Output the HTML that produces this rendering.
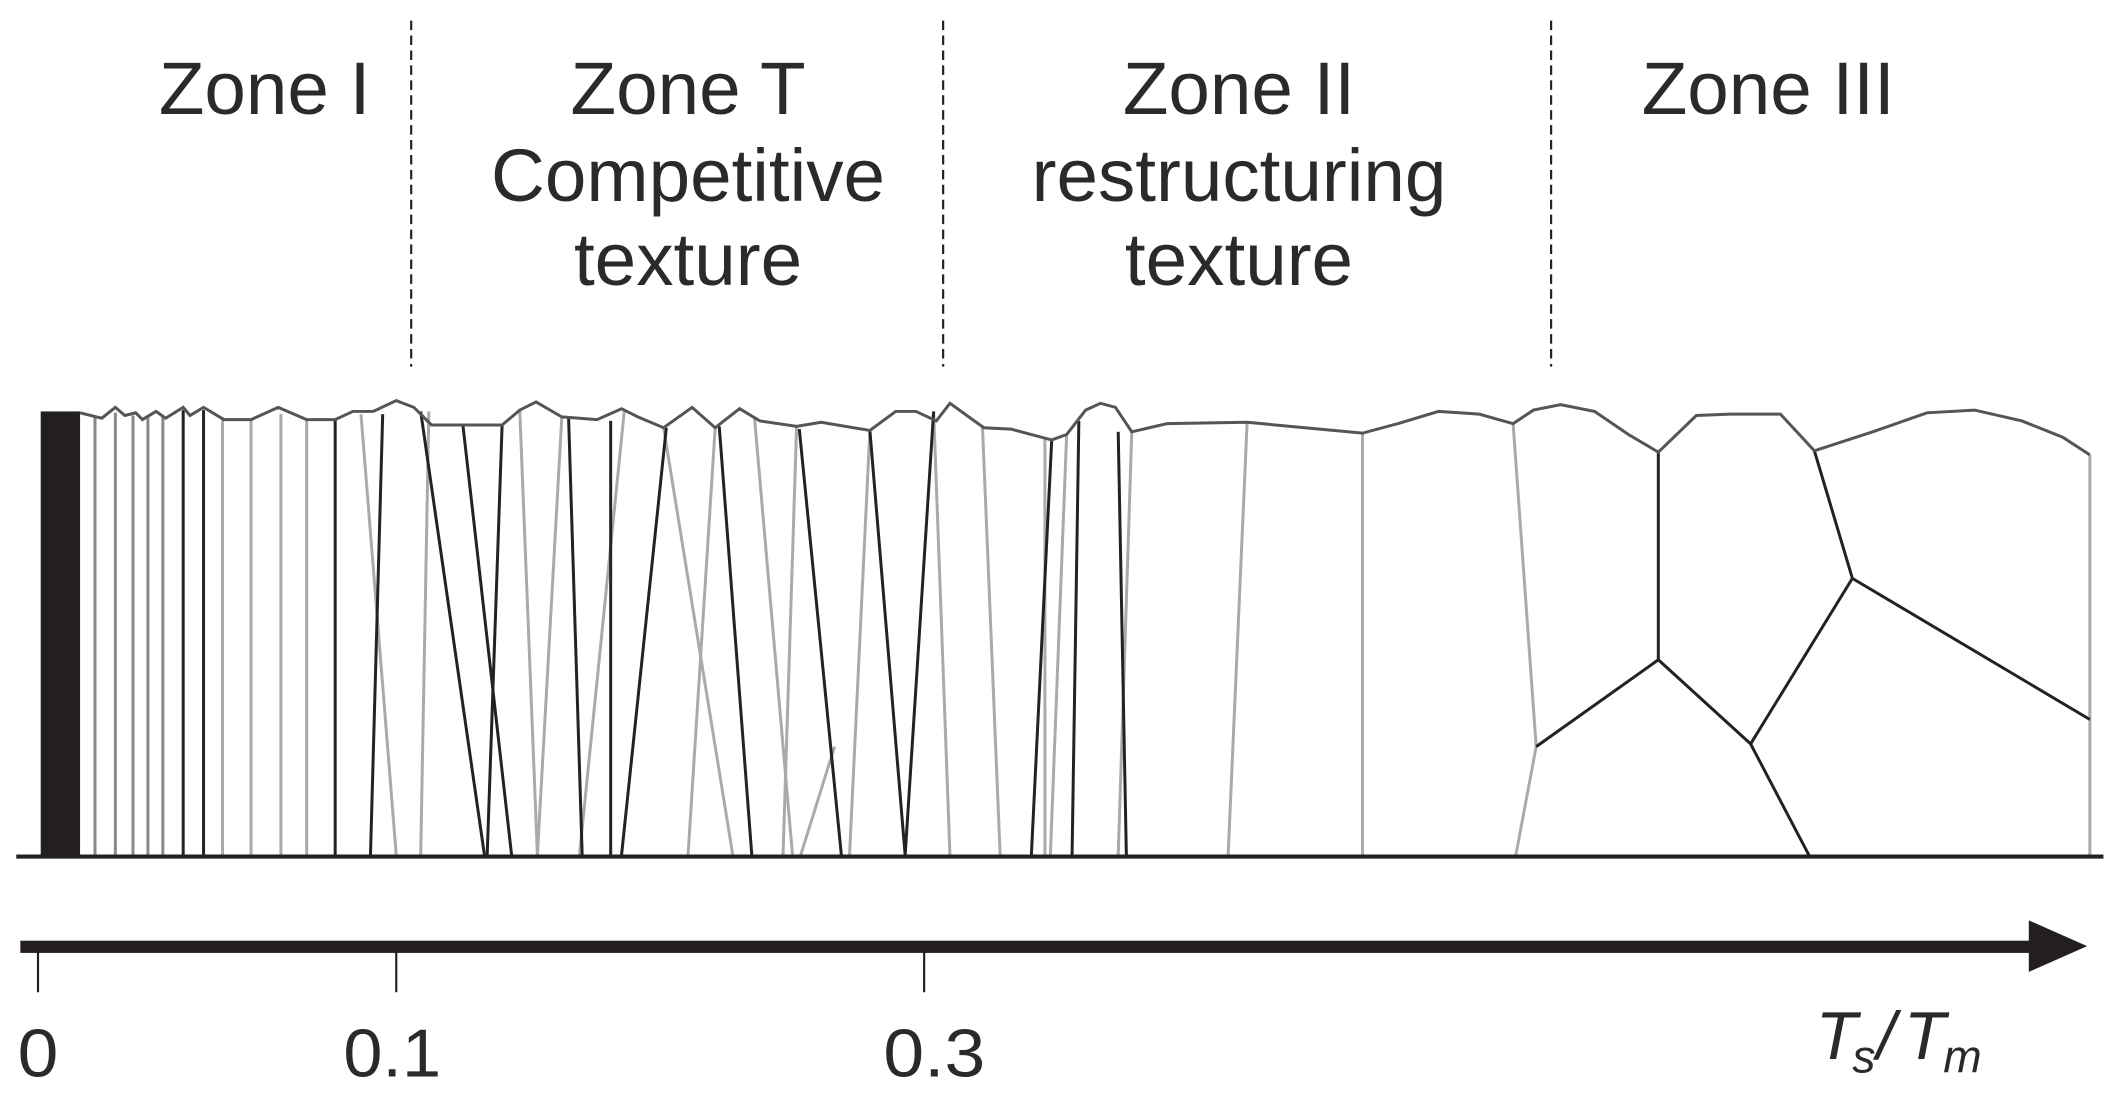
<!DOCTYPE html>
<html><head><meta charset="utf-8"><style>
html,body{margin:0;padding:0;background:#fff;}
svg{display:block}
text{font-family:"Liberation Sans",sans-serif;fill:#2a2a2a}
</style></head><body>
<svg width="2117" height="1097" viewBox="0 0 1560 808" xmlns="http://www.w3.org/2000/svg">
<g stroke="#222" stroke-width="1.6" stroke-dasharray="7,4">
<line x1="303" y1="15" x2="303" y2="270"/>
<line x1="695" y1="15" x2="695" y2="270"/>
<line x1="1143" y1="15" x2="1143" y2="270"/>
</g>
<g font-size="55" text-anchor="middle">
<text x="195" y="84">Zone I</text>
<text x="507" y="84">Zone T</text>
<text x="507" y="148">Competitive</text>
<text x="507" y="210">texture</text>
<text x="913" y="84">Zone II</text>
<text x="913" y="148">restructuring</text>
<text x="913" y="210">texture</text>
<text x="1303" y="84">Zone III</text>
</g>
<rect x="30" y="303" width="29" height="328" fill="#231f20"/>
<g stroke-width="2.2" fill="none">
<g stroke="#888">
<line x1="70" y1="306" x2="70" y2="630"/><line x1="85" y1="304" x2="85" y2="630"/>
<line x1="98" y1="306" x2="98" y2="630"/><line x1="109" y1="306" x2="109" y2="630"/>
<line x1="120" y1="306" x2="120" y2="630"/>
</g>
<g stroke="#aaa">
<line x1="164" y1="309" x2="164" y2="630"/><line x1="185" y1="309" x2="185" y2="630"/>
<line x1="207" y1="305" x2="207" y2="630"/><line x1="226" y1="309" x2="226" y2="630"/>
</g>
<g stroke="#222">
<line x1="135" y1="302" x2="135" y2="630"/><line x1="150" y1="302" x2="150" y2="630"/>
<line x1="247" y1="309" x2="247" y2="630"/>
</g>
<g stroke="#aaa">
<line x1="266" y1="305" x2="292" y2="630"/><line x1="316" y1="303" x2="310" y2="630"/>
<line x1="383" y1="302" x2="396" y2="630"/><line x1="414" y1="307" x2="396" y2="630"/>
<line x1="460" y1="303" x2="427" y2="630"/><line x1="489" y1="315" x2="540" y2="630"/>
<line x1="527" y1="315" x2="507" y2="630"/><line x1="556" y1="308" x2="584" y2="630"/>
<line x1="587" y1="314" x2="577" y2="630"/><line x1="641" y1="317" x2="626" y2="630"/>
<line x1="688" y1="303" x2="700" y2="630"/><line x1="724" y1="315" x2="737" y2="630"/>
<line x1="770" y1="322" x2="770" y2="630"/><line x1="786" y1="320" x2="774" y2="630"/>
<line x1="834" y1="318" x2="824" y2="630"/><line x1="919" y1="311" x2="905" y2="630"/>
<line x1="1004" y1="319" x2="1004" y2="630"/><line x1="1115" y1="312" x2="1132" y2="550"/>
<line x1="1132" y1="550" x2="1117" y2="630"/><line x1="1540" y1="335" x2="1540" y2="630"/>
<line x1="590" y1="630" x2="615" y2="550"/>
</g>
<g stroke="#222">
<line x1="282" y1="305" x2="273" y2="630"/><line x1="310" y1="303" x2="357" y2="630"/>
<line x1="341" y1="312" x2="377" y2="630"/><line x1="370" y1="313" x2="359" y2="630"/>
<line x1="419" y1="308" x2="429" y2="630"/><line x1="450" y1="310" x2="450" y2="630"/>
<line x1="491" y1="315" x2="458" y2="630"/><line x1="530" y1="314" x2="554" y2="630"/>
<line x1="589" y1="316" x2="620" y2="630"/><line x1="641" y1="317" x2="667" y2="630"/>
<line x1="688" y1="303" x2="667" y2="630"/><line x1="775" y1="324" x2="760" y2="630"/>
<line x1="795" y1="310" x2="790" y2="630"/><line x1="824" y1="318" x2="830" y2="630"/>
<line x1="1222" y1="333" x2="1222" y2="486"/><line x1="1222" y1="486" x2="1132" y2="550"/>
<line x1="1222" y1="486" x2="1290" y2="548"/><line x1="1290" y1="548" x2="1333" y2="630"/>
<line x1="1337" y1="332" x2="1365" y2="426"/><line x1="1365" y1="426" x2="1290" y2="548"/>
<line x1="1365" y1="426" x2="1540" y2="530"/>
</g>
<polyline stroke="#555" points="59,304 75,308 85,300 92,306 100,304 105,309 115,303 122,308 135,300 140,306 150,300 165,309 185,309 205,300 226,309 247,309 260,303 275,303 292,295 305,300 318,313 345,313 370,313 383,302 395,296 414,307 440,309 458,301 470,307 489,315 510,300 527,315 545,301 560,310 587,314 605,311 641,317 660,303 675,303 690,310 700,297 725,315 745,316 760,320 775,324 786,320 800,302 811,297 822,300 834,318 860,312 919,311 1004,319 1030,312 1060,303 1090,305 1115,312 1130,302 1150,298 1175,303 1200,320 1222,333 1250,306 1275,305 1312,305 1337,332 1380,318 1420,304 1455,302 1490,310 1520,322 1540,335"/>
</g>
<line x1="12" y1="631" x2="1550" y2="631" stroke="#231f20" stroke-width="3"/>
<rect x="15" y="693" width="1482" height="9" fill="#231f20"/>
<polygon points="1495,678 1538,697 1495,716" fill="#231f20"/>
<g stroke="#231f20" stroke-width="1.6">
<line x1="28" y1="700" x2="28" y2="731"/><line x1="292" y1="700" x2="292" y2="731"/><line x1="681" y1="700" x2="681" y2="731"/>
</g>
<g font-size="50">
<text x="13" y="793" textLength="30" lengthAdjust="spacingAndGlyphs">0</text>
<text x="253" y="793" textLength="72" lengthAdjust="spacingAndGlyphs">0.1</text>
<text x="651" y="793" textLength="75" lengthAdjust="spacingAndGlyphs">0.3</text>
<text x="1338" y="780" font-style="italic">T</text>
<text x="1365" y="790" font-style="italic" font-size="34">s</text>
<text x="1383" y="780" font-style="italic">/</text>
<text x="1403" y="780" font-style="italic">T</text>
<text x="1432" y="790" font-style="italic" font-size="34">m</text>
</g>
</svg>
</body></html>
